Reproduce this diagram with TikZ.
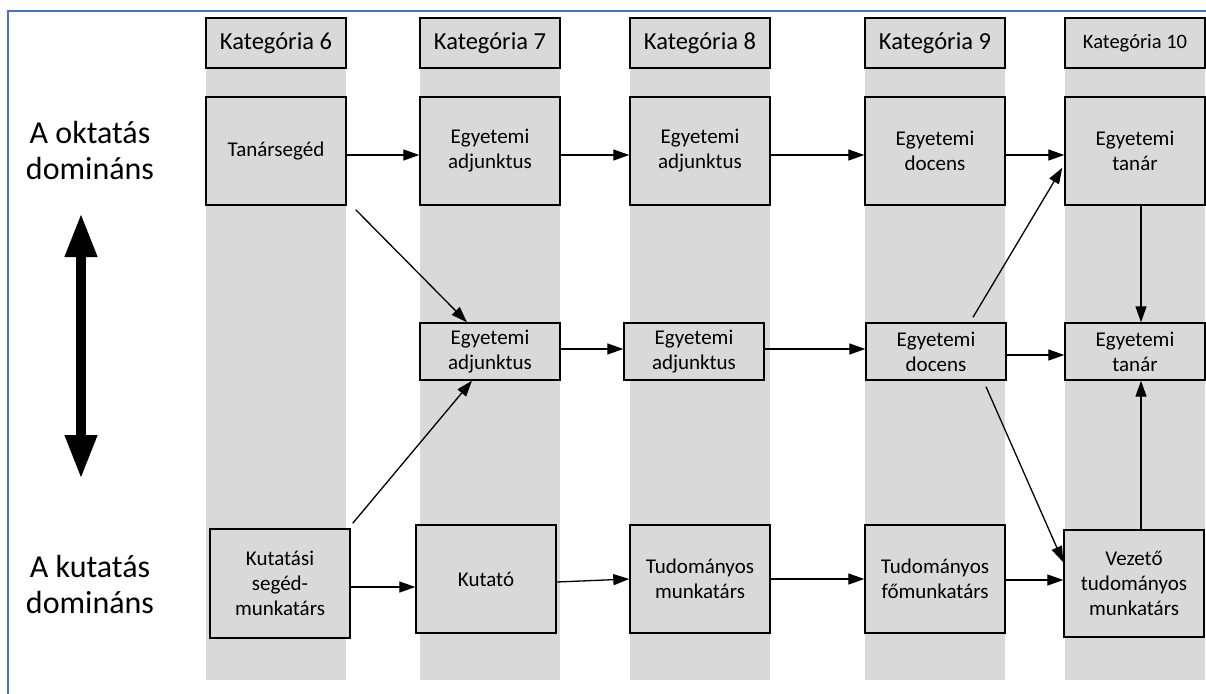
\documentclass[tikz,border=0pt]{standalone}
\usepackage{fontspec}
\setmainfont{Carlito}
\usetikzlibrary{arrows.meta}
\definecolor{bandgray}{HTML}{D9D9D9}
\definecolor{frameblue}{HTML}{4472C4}
\begin{document}
\begin{tikzpicture}[x=1pt,y=-1pt,>={Triangle[length=16pt,width=11pt]},
  box/.style={draw,fill=bandgray,line width=1.4pt,minimum width=140pt,
    inner sep=0pt,align=center,font=\fontsize{21pt}{25pt}\selectfont},
  headbox/.style={box,minimum height=50pt,font=\fontsize{24.5pt}{28pt}\selectfont},
  bigbox/.style={box,minimum height=108pt},
  midbox/.style={box,minimum height=57pt},
  link/.style={->,line width=1.3pt},
  side/.style={align=center,font=\fontsize{32pt}{36pt}\selectfont}]
\useasboundingbox (0,0) rectangle (1206,693);
\def\BandTop{18}
\def\BandBot{680}
% frame
\draw[frameblue,line width=2pt]
  (8,700) -- (8,11) -- (1215,11);
% grey columns
\foreach \cx in {276,490,700,935,1135}
  \fill[bandgray] (\cx-70,\BandTop) rectangle (\cx+70,\BandBot);
% headers
\node[headbox] (h6) at (276,43) {Kategória 6};
\node[headbox] (h7) at (490,43) {Kategória 7};
\node[headbox] (h8) at (700,43) {Kategória 8};
\node[headbox] (h9) at (935,43) {Kategória 9};
\node[headbox,font=\fontsize{20.5pt}{25pt}\selectfont] (h10) at (1135,43) {Kategória 10};
% teaching row
\node[bigbox] (ts) at (276,151) {Tanársegéd};
\node[bigbox] (ea7) at (490,151) {Egyetemi\\adjunktus};
\node[bigbox] (ea8) at (700,151) {Egyetemi\\adjunktus};
\node[bigbox] (ed9) at (935,151) {Egyetemi\\docens};
\node[bigbox] (et10) at (1135,151) {Egyetemi\\tanár};
% middle row
\node[midbox] (ea7m) at (490,351.5) {Egyetemi\\adjunktus};
\node[midbox] (ea8m) at (694,351.5) {Egyetemi\\adjunktus};
\node[midbox] (ed9m) at (936,351.5) {Egyetemi\\docens};
\node[midbox] (et10m) at (1135,351.5) {Egyetemi\\tanár};
% research row
\node[bigbox,minimum height=109pt] (ks6) at (280,583.5) {Kutatási\\segéd-\\munkatárs};
\node[bigbox] (ku7) at (486,579) {Kutató};
\node[bigbox] (tm8) at (700,579) {Tudományos\\munkatárs};
\node[bigbox] (tf9) at (935,579) {Tudományos\\főmunkatárs};
\node[bigbox,minimum height=107pt] (vt10) at (1134,583.5) {Vezető\\tudományos\\munkatárs};
% left side
\node[side] (oktat) at (90,151) {A oktatás\\domináns};
\node[side] (kutat) at (90,584) {A kutatás\\domináns};
\coordinate (up) at (81,213);
\coordinate (dn) at (81,479);
\draw[{Triangle[length=44pt,width=30pt]}-{Triangle[length=44pt,width=30pt]},line width=10pt]
  (up) -- (dn);
% connectors
\draw[link] ([yshift=-4pt]ts.east) -- ([yshift=-4pt]ea7.west);
\draw[link] ([yshift=-4pt]ea7.east) -- ([yshift=-4pt]ea8.west);
\draw[link] ([yshift=-4pt]ea8.east) -- ([yshift=-4pt]ed9.west);
\draw[link] ([yshift=-4pt]ed9.east) -- ([yshift=-4pt]et10.west);
\draw[link] ([shift={(9,4)}]ts.south east) -- ([xshift=-23pt]ea7m.north);
\draw[link] ([shift={(2,-5)}]ks6.north east) -- ([xshift=-18pt]ea7m.south);
\draw[link] ([yshift=2.5pt]ea7m.east) -- ([yshift=2.5pt]ea8m.west);
\draw[link] ([yshift=2.5pt]ea8m.east) -- ([yshift=2.5pt]ed9m.west);
\draw[link] ([yshift=-3.5pt]ed9m.east) -- ([yshift=-3.5pt]et10m.west);
\draw[link] ([shift={(37,-5)}]ed9m.north) -- ([shift={(-2,-38)}]et10.south west);
\draw[link] ([shift={(50,6)}]ed9m.south) -- ([shift={(0,33)}]vt10.north west);
\draw[link] ([xshift=6pt]et10.south) -- ([xshift=6pt]et10m.north);
\draw[link] ([xshift=7pt]vt10.north) -- ([xshift=6pt]et10m.south);
\draw[link] ([yshift=-3.5pt]ks6.east) -- ([yshift=-8pt]ku7.west);
\draw[link] ([yshift=-3pt]ku7.east) -- (tm8.west);
\draw[link] (tm8.east) -- (tf9.west);
\draw[link] ([yshift=-1pt]tf9.east) -- ([yshift=3.5pt]vt10.west);
\end{tikzpicture}
\end{document}
